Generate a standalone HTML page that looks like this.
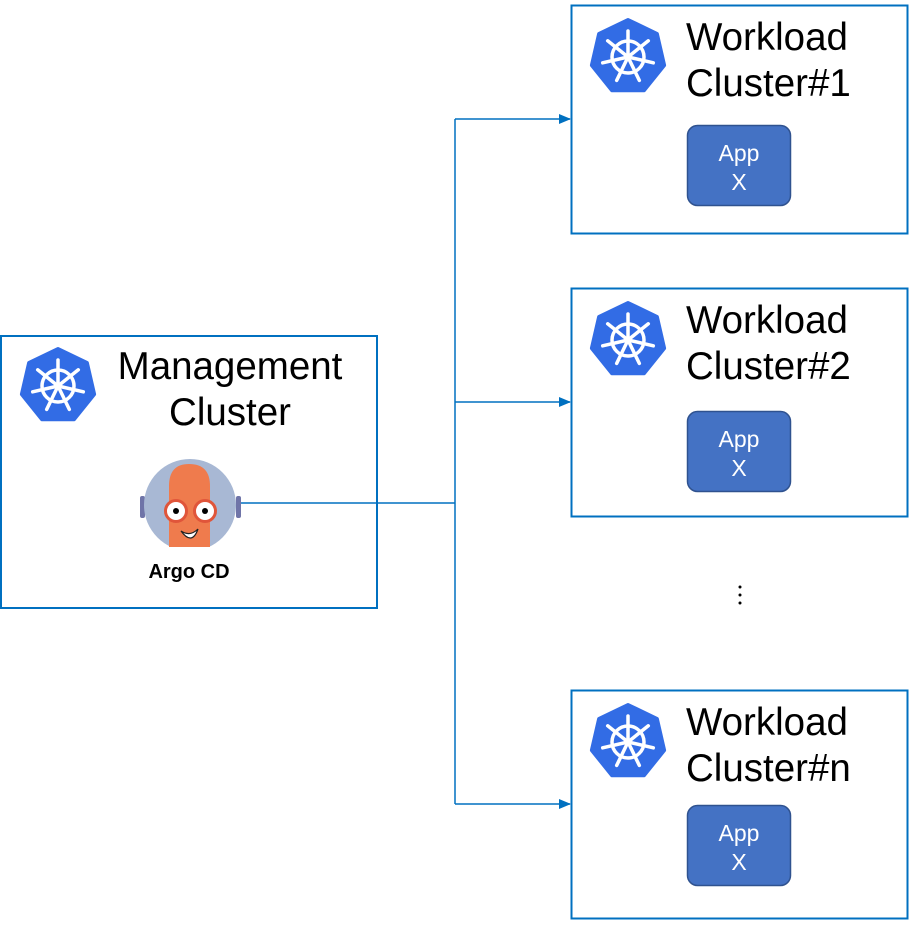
<!DOCTYPE html>
<html><head><meta charset="utf-8"><style>
html,body{margin:0;padding:0;background:#fff}
svg text{font-family:"Liberation Sans",sans-serif}
</style></head><body>
<svg width="909" height="920" viewBox="0 0 909 920" xmlns="http://www.w3.org/2000/svg">
<defs>
<g id="k8s">
<polygon points="0,-37 28.9,-23.1 36.1,8.2 16,33.3 -16,33.3 -36.1,8.2 -28.9,-23.1" fill="#326ce5" stroke="#326ce5" stroke-width="4" stroke-linejoin="round"/>
<circle r="16" fill="none" stroke="#fff" stroke-width="3.5"/>
<circle r="4" fill="#fff"/>
<g stroke="#fff" stroke-width="3.5" stroke-linecap="round">
<line x1="0" y1="0" x2="0" y2="-26"/>
<line x1="0" y1="0" x2="20.3" y2="-16.2"/>
<line x1="0" y1="0" x2="25.3" y2="5.8"/>
<line x1="0" y1="0" x2="11.3" y2="23.4"/>
<line x1="0" y1="0" x2="-11.3" y2="23.4"/>
<line x1="0" y1="0" x2="-25.3" y2="5.8"/>
<line x1="0" y1="0" x2="-20.3" y2="-16.2"/>
</g>
</g>
<marker id="ar" markerWidth="12" markerHeight="12" refX="11" refY="6" orient="auto" markerUnits="userSpaceOnUse">
<path d="M0,1 L12,6 L0,11 z" fill="#0070c0"/>
</marker>
</defs>

<g stroke="#0070c0" stroke-width="1.5" fill="none">
<line x1="241" y1="503" x2="455" y2="503"/>
<line x1="455" y1="119" x2="455" y2="804"/>
<line x1="455" y1="119" x2="570" y2="119" marker-end="url(#ar)"/>
<line x1="455" y1="402" x2="570" y2="402" marker-end="url(#ar)"/>
<line x1="455" y1="804" x2="570" y2="804" marker-end="url(#ar)"/>
</g>

<rect x="1" y="336" width="376" height="272" fill="none" stroke="#0070c0" stroke-width="2"/>
<use href="#k8s" x="58" y="386"/>
<text x="230" y="379" font-size="38.5" text-anchor="middle" fill="#000">Management</text>
<text x="230" y="425" font-size="38.5" text-anchor="middle" fill="#000">Cluster</text>
<rect x="140" y="496" width="5" height="22" rx="2" fill="#6f74a8"/>
<rect x="236" y="496" width="5" height="22" rx="2" fill="#6f74a8"/>
<clipPath id="cp"><rect x="140" y="455" width="110" height="92"/></clipPath>
<g clip-path="url(#cp)">
<circle cx="190" cy="505" r="46" fill="#a8b8d4"/>
<path d="M169,547 L169,486 Q169,464 189,464 Q210,464 210,486 L210,547 Z" fill="#ef7b4d"/>
</g>
<circle cx="176" cy="511" r="10.5" fill="#fff" stroke="#e0553a" stroke-width="3"/>
<circle cx="205" cy="511" r="10.5" fill="#fff" stroke="#e0553a" stroke-width="3"/>
<circle cx="176" cy="511" r="3" fill="#000"/>
<circle cx="205" cy="511" r="3" fill="#000"/>
<path d="M181,531 Q190,537 198,529 Q192,546 181,531 Z" fill="#fff" stroke="#222" stroke-width="1.2"/>
<text x="189" y="578" font-size="20" font-weight="bold" text-anchor="middle" fill="#000">Argo CD</text>

<g>
<rect x="571.5" y="5.5" width="336" height="228" fill="none" stroke="#0070c0" stroke-width="2"/>
<use href="#k8s" x="628" y="57"/>
<text x="686" y="50" font-size="38.5" fill="#000">Workload</text>
<text x="686" y="96" font-size="38.5" fill="#000">Cluster#1</text>
<rect x="687.5" y="125.5" width="103" height="80" rx="10" fill="#4472c4" stroke="#2f528f" stroke-width="1.5"/>
<text x="739" y="161" font-size="23" fill="#fff" text-anchor="middle">App</text>
<text x="739" y="190" font-size="23" fill="#fff" text-anchor="middle">X</text>
</g>
<g transform="translate(0,283)">
<rect x="571.5" y="5.5" width="336" height="228" fill="none" stroke="#0070c0" stroke-width="2"/>
<use href="#k8s" x="628" y="57"/>
<text x="686" y="50" font-size="38.5" fill="#000">Workload</text>
<text x="686" y="96" font-size="38.5" fill="#000">Cluster#2</text>
<rect x="687.5" y="128.5" width="103" height="80" rx="10" fill="#4472c4" stroke="#2f528f" stroke-width="1.5"/>
<text x="739" y="164" font-size="23" fill="#fff" text-anchor="middle">App</text>
<text x="739" y="193" font-size="23" fill="#fff" text-anchor="middle">X</text>
</g>
<g transform="translate(0,685)">
<rect x="571.5" y="5.5" width="336" height="228" fill="none" stroke="#0070c0" stroke-width="2"/>
<use href="#k8s" x="628" y="57"/>
<text x="686" y="50" font-size="38.5" fill="#000">Workload</text>
<text x="686" y="96" font-size="38.5" fill="#000">Cluster#n</text>
<rect x="687.5" y="120.5" width="103" height="80" rx="10" fill="#4472c4" stroke="#2f528f" stroke-width="1.5"/>
<text x="739" y="156" font-size="23" fill="#fff" text-anchor="middle">App</text>
<text x="739" y="185" font-size="23" fill="#fff" text-anchor="middle">X</text>
</g>
<circle cx="740" cy="587" r="1.5" fill="#000"/>
<circle cx="740" cy="595" r="1.5" fill="#000"/>
<circle cx="740" cy="603" r="1.5" fill="#000"/>
</svg>
</body></html>
